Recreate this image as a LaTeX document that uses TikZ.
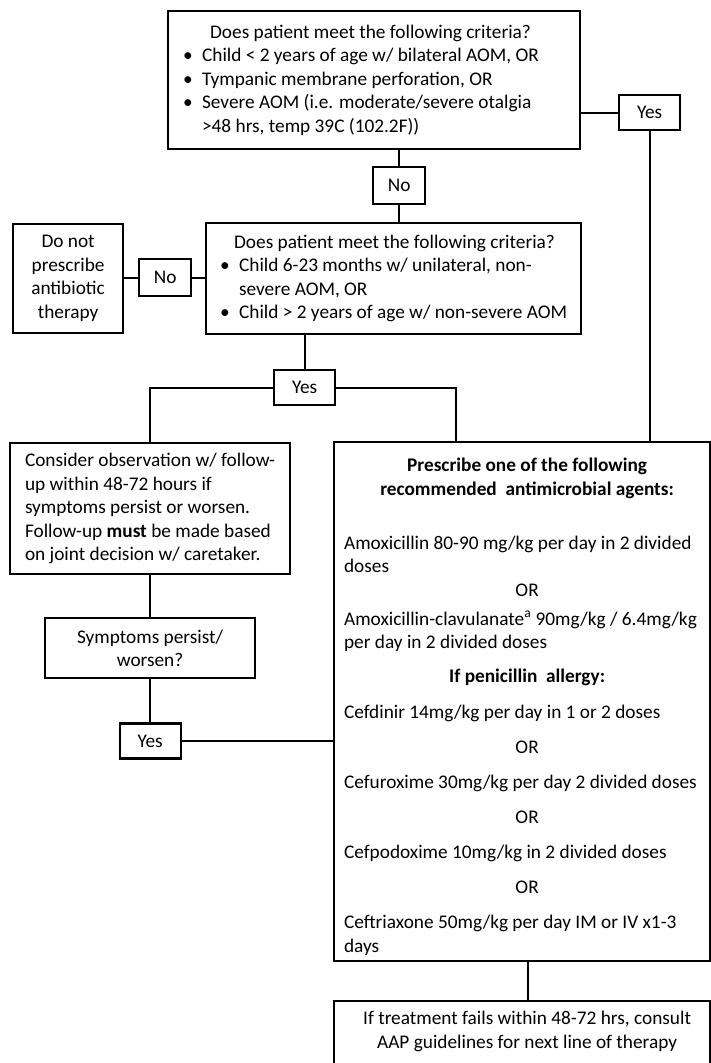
\documentclass[tikz,border=0pt]{standalone}
\usepackage{fontspec}
\setmainfont{Carlito}
\usetikzlibrary{positioning,calc}
\newcommand\fs{\fontsize{19.3}{23.5}\selectfont}
\newcommand\bul{\makebox[19pt][l]{\textbullet}}
\newcommand\lline[1]{\hbox{\hskip10pt #1}}
\newcommand\ctr[1]{\hbox to \hsize{\hskip10pt\hfil #1\hfil}}
\newcommand\orgap{\vspace{11.5pt}\ctr{OR}\vspace{11.5pt}}

\begin{document}
\begin{tikzpicture}[x=1pt,y=-1pt,
    n/.style={draw,line width=2.2pt,anchor=north west,inner sep=0pt,font=\fs},
    yes/.style={n,minimum width=61pt,minimum height=35pt},
    no/.style={n,minimum width=52pt,minimum height=37pt},
    a/.style={line width=2.2pt}]
  \useasboundingbox (0,0) rectangle (711,1063);
  % questions
  \node[n,minimum width=412pt,minimum height=138pt,text width=382pt,align=flush left] (q1) at (167,10)
    {\spaceskip=0pt\xspaceskip=0pt
     \hspace*{27pt}Does patient meet the following criteria?\\
     \bul Child < 2 years of age w/ bilateral AOM, OR\\
     \bul Tympanic membrane perforation, OR\\
     \bul Severe AOM (i.e. moderate/severe otalgia\\
     \hspace*{19pt}>48 hrs, temp 39C (102.2F))};
  \node[yes] (y1) at (618,94) {Yes};
  \node[no] (n1) at (372,166) {No};
  \node[n,minimum width=375pt,minimum height=111pt,align=flush left] (q2) at (205,222)
    {\hspace*{14pt}Does patient meet the following criteria?\\
     \bul Child 6-23 months w/ unilateral, non-\\
     \hspace*{19pt}severe AOM, OR\\
     \bul Child > 2 years of age w/ non-severe AOM};
  \node[no] (n2) at (138,258) {No};
  \node[n,minimum width=110pt,minimum height=109pt,align=center] (stop) at (12,223)
    {Do not\\prescribe\\antibiotic\\therapy};
  \node[yes] (y2) at (273,369) {Yes};
  % observation branch
  \node[n,minimum width=280pt,minimum height=131pt,align=flush left] (obs) at (9,442)
    {Consider observation w/ follow-\\
     up within 48-72 hours if\\
     symptoms persist or worsen.\\
     Follow-up \textbf{must} be made based\\
     on joint decision w/ caretaker.};
  \node[n,minimum width=210pt,minimum height=60pt,align=center,below=42pt of obs] (sym)
    {Symptoms persist/\\worsen?};
  \node[yes,below=43pt of sym] (y3) {Yes};
  % treatment
  \node[n,minimum width=376pt,minimum height=519pt,text width=376pt] (rx) at (333,441)
    {\par\spaceskip=0pt\xspaceskip=0pt
     \ctr{\bfseries Prescribe one of the following}
     \ctr{\bfseries recommended\ \ antimicrobial agents:}
     \vspace{30.5pt}
     \lline{Amoxicillin 80-90 mg/kg per day in 2 divided}
     \lline{doses}
     \ctr{OR}
     \vspace{5.5pt}
     \lline{Amoxicillin-clavulanate\textsuperscript{a} 90mg/kg / 6.4mg/kg}
     \lline{per day in 2 divided doses}
     \vspace{10.5pt}
     \ctr{\bfseries If penicillin\ \ allergy:}
     \vspace{12.5pt}
     \lline{Cefdinir 14mg/kg per day in 1 or 2 doses}
     \orgap
     \lline{Cefuroxime 30mg/kg per day 2 divided doses}
     \orgap
     \lline{Cefpodoxime 10mg/kg in 2 divided doses}
     \orgap
     \lline{Ceftriaxone 50mg/kg per day IM or IV x1-3}
     \lline{days}};
  \node[n,minimum width=376pt,inner ysep=10pt,align=center] (fail) at (333,1000)
    {\hspace*{10pt}If treatment fails within 48-72 hrs, consult\\
     \hspace*{10pt}AAP guidelines for next line of therapy\rule[-30pt]{0pt}{0pt}};
  % connectors
  \draw[a] (q1.east |- y1.west) -- (y1.west);
  \draw[a] (y1.south) -- (y1.south |- rx.north);
  \draw[a] (n1.north |- q1.south) -- (n1.north);
  \draw[a] (n1.south) -- (n1.south |- q2.north);
  \draw[a] (q2.west |- n2.east) -- (n2.east);
  \draw[a] (n2.west) -- (n2.west -| stop.east);
  \draw[a] (y2.north) -- (y2.north |- q2.south);
  \draw[a] (y2.west) -| (obs.north);
  \draw[a] (y2.east) -| ($(rx.north west)+(123,0)$);
  \draw[a] (obs.south) -- (sym.north);
  \draw[a] (sym.south) -- (y3.north);
  \draw[a] (y3.east) -- (y3.east -| rx.west);
  \draw[a] ([xshift=6pt]fail.north |- rx.south) -- ([xshift=6pt]fail.north);
\end{tikzpicture}
\end{document}
